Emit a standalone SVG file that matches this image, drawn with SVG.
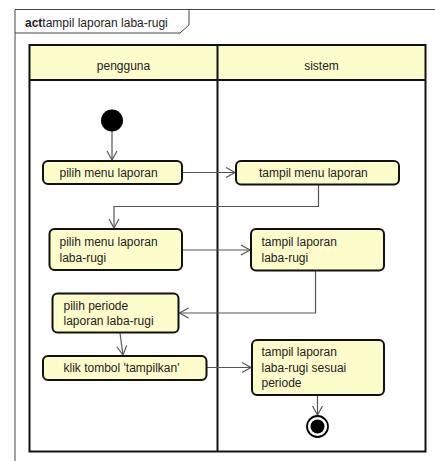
<svg xmlns="http://www.w3.org/2000/svg" width="435" height="461" viewBox="0 0 435 461">
<defs>
<style>
.t{font-family:"Liberation Sans",Arial,sans-serif;font-size:12px;fill:#222}
.n{fill:#fdfccb;stroke:#111;stroke-width:2}
.c{fill:none;stroke:#555;stroke-width:1.2}
.lane{fill:none;stroke:#111;stroke-width:2}
</style>
<marker id="a" markerWidth="12" markerHeight="12" refX="10" refY="6" orient="auto" markerUnits="userSpaceOnUse">
<path d="M1,1 L10,6 L1,11" fill="none" stroke="#555" stroke-width="1.2"/>
</marker>
</defs>
<rect width="435" height="461" fill="#fff"/>
<g id="frame">
<path d="M15,461 L15,9.5 L435,9.5" fill="none" stroke="#444" stroke-width="1"/>
<path d="M15,33 L180,33 L189,25 L189,9.5" fill="none" stroke="#444" stroke-width="1"/>
<text x="25" y="27" class="t"><tspan font-weight="bold">act</tspan>tampil laporan laba-rugi</text>
</g>
<g id="lanes">
<rect x="29.5" y="45" width="396" height="35" fill="#fdfccb"/>
<rect x="29.5" y="45" width="396" height="406.5" class="lane"/>
<line x1="29.5" y1="80" x2="425.5" y2="80" class="lane"/>
<line x1="217.5" y1="45" x2="217.5" y2="451.5" class="lane"/>
<text x="123.5" y="70" class="t" text-anchor="middle">pengguna</text>
<text x="321.5" y="70" class="t" text-anchor="middle">sistem</text>
</g>
<g id="connectors">
<line x1="112" y1="131" x2="112" y2="160" class="c" marker-end="url(#a)"/>
<line x1="182" y1="172.5" x2="235" y2="172.5" class="c" marker-end="url(#a)"/>
<polyline points="318.5,185 318.5,206.5 114,206.5 114,228" class="c" marker-end="url(#a)"/>
<line x1="182" y1="250" x2="250" y2="250" class="c" marker-end="url(#a)"/>
<polyline points="315.5,271 315.5,313 179.5,313" class="c" marker-end="url(#a)"/>
<line x1="120" y1="333" x2="123" y2="355" class="c" marker-end="url(#a)"/>
<line x1="207" y1="367.5" x2="251" y2="367.5" class="c" marker-end="url(#a)"/>
<line x1="317.5" y1="396" x2="317.5" y2="415" class="c" marker-end="url(#a)"/>
</g>
<g id="start">
<circle cx="112" cy="120.5" r="11" fill="#000"/>
</g>
<g id="n1">
<rect x="43" y="161" width="139" height="23" rx="5" class="n"/>
<text x="59.5" y="177" class="t">pilih menu laporan</text>
</g>
<g id="n2">
<rect x="236" y="161" width="163" height="23.5" rx="5" class="n"/>
<text x="259" y="177" class="t">tampil menu laporan</text>
</g>
<g id="n3">
<rect x="49.5" y="229" width="132.5" height="41" rx="5" class="n"/>
<text x="59.5" y="246" class="t">pilih menu laporan</text>
<text x="59.5" y="261.5" class="t">laba-rugi</text>
</g>
<g id="n4">
<rect x="251" y="229" width="133" height="41.5" rx="5" class="n"/>
<text x="261.5" y="246" class="t">tampil laporan</text>
<text x="261.5" y="261.5" class="t">laba-rugi</text>
</g>
<g id="n5">
<rect x="52.5" y="293.5" width="126" height="39" rx="5" class="n"/>
<text x="63.5" y="310" class="t">pilih periode</text>
<text x="63.5" y="324.5" class="t">laporan laba-rugi</text>
</g>
<g id="n6">
<rect x="43" y="356" width="163.5" height="24" rx="5" class="n"/>
<text x="63.5" y="372" class="t">klik tombol 'tampilkan'</text>
</g>
<g id="n7">
<rect x="252" y="340" width="132" height="55" rx="5" class="n"/>
<text x="261.5" y="356" class="t">tampil laporan</text>
<text x="261.5" y="371.5" class="t">laba-rugi sesuai</text>
<text x="261.5" y="387" class="t">periode</text>
</g>
<g id="end">
<circle cx="317.5" cy="426.5" r="10.5" fill="#fff" stroke="#000" stroke-width="1.8"/>
<circle cx="317.5" cy="426.5" r="7" fill="#000"/>
</g>
</svg>
